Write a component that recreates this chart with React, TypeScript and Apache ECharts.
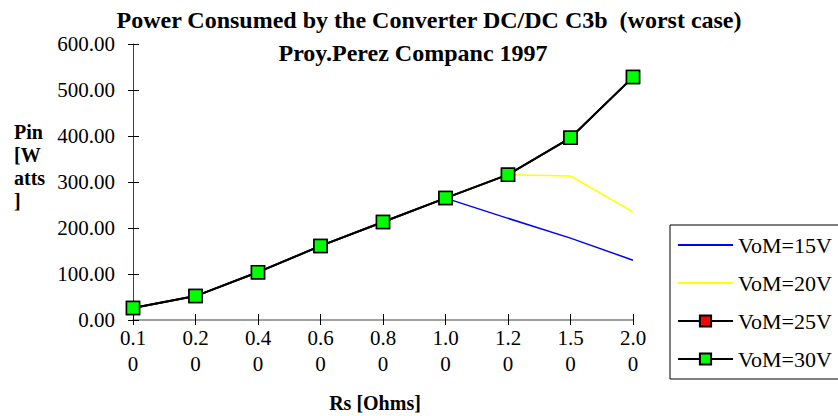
import React, { useEffect, useRef } from "react";
import * as echarts from "echarts";

const categories = ["0.10", "0.20", "0.40", "0.60", "0.80", "1.00", "1.20", "1.50", "2.00"];
const vom15 = [26, 52, 104, 161, 213, 265, 221, 178, 130];
const vom20 = [26, 52, 104, 161, 213, 265, 316, 313, 235];
const vom25 = [26, 52, 104, 161, 213, 265, 316, 396, 528];
const vom30 = [26, 52, 104, 161, 213, 265, 316, 396, 528];
const seriesNames = ["VoM=15V", "VoM=20V", "VoM=25V", "VoM=30V"];

const FONT = "Liberation Serif";
const FONT_CSS = `"Liberation Serif", "Times New Roman", serif`;

export default function App() {
  const ref = useRef<HTMLDivElement>(null);
  useEffect(() => {
    if (!ref.current) return;
    const chart = echarts.init(ref.current, null, { renderer: "svg" });
    const grid = { left: 133, top: 44, width: 500, height: 276 };
    const xLabel = {
      show: true,
      fontFamily: FONT,
      fontSize: 21,
      color: "#000",
      lineHeight: 26,
      margin: 5,
      formatter: (v: string) => v.slice(0, 3) + "\n" + v.slice(3),
    };
    chart.setOption({
      animation: false,
      backgroundColor: "#fff",
      textStyle: { fontFamily: FONT, fontSize: 20 },
      grid,
      graphic: [
        {
          type: "text",
          x: 429,
          y: 20,
          style: {
            text: "Power Consumed by the Converter DC/DC C3b  (worst case)",
            font: `bold 24px ${FONT_CSS}`,
            fill: "#000",
            align: "center",
            verticalAlign: "middle",
          },
        },
        {
          type: "text",
          x: 413,
          y: 53,
          style: {
            text: "Proy.Perez Companc 1997",
            font: `bold 24px ${FONT_CSS}`,
            fill: "#000",
            align: "center",
            verticalAlign: "middle",
          },
        },
        {
          type: "text",
          x: 14,
          y: 120,
          style: {
            text: "Pin\n[W\natts\n]",
            font: `bold 20px ${FONT_CSS}`,
            lineHeight: 23,
            fill: "#000",
            align: "left",
            verticalAlign: "top",
          },
        },
        {
          type: "text",
          x: 375,
          y: 403,
          style: {
            text: "Rs [Ohms]",
            font: `bold 20px ${FONT_CSS}`,
            fill: "#000",
            align: "center",
            verticalAlign: "middle",
          },
        },
      ],
      legend: {
        orient: "vertical",
        left: 670,
        top: 225,
        padding: [9, 30, 9, 7],
        itemWidth: 55,
        itemHeight: 14,
        itemGap: 16,
        itemTextGap: 8,
        borderColor: "#000",
        borderWidth: 1,
        backgroundColor: "#fff",
        textStyle: { fontFamily: FONT, fontSize: 22, color: "#000", lineHeight: 22 },
        data: [
          { name: seriesNames[0], itemStyle: { opacity: 0 } },
          { name: seriesNames[1], itemStyle: { opacity: 0 } },
          { name: seriesNames[2] },
          { name: seriesNames[3] },
        ],
      },
      xAxis: [
        {
          type: "category",
          data: categories,
          boundaryGap: false,
          position: "bottom",
          axisLine: { lineStyle: { color: "#808080", width: 1.5 } },
          axisTick: { length: 5, lineStyle: { color: "#000" } },
          axisLabel: xLabel,
          splitLine: { show: false },
        },
        {
          type: "category",
          data: categories,
          boundaryGap: false,
          position: "bottom",
          axisLine: { show: false },
          axisTick: { inside: true, length: 6, lineStyle: { color: "#000" } },
          axisLabel: { show: false },
          splitLine: { show: false },
        },
      ],
      yAxis: [
        {
          type: "value",
          min: 0,
          max: 600,
          interval: 100,
          axisLine: { show: true, lineStyle: { color: "#404040", width: 1 } },
          axisTick: { show: true, length: 5, lineStyle: { color: "#000" } },
          axisLabel: {
            show: true,
            fontFamily: FONT,
            fontSize: 21,
            color: "#000",
            margin: 18,
            formatter: (v: number) => v.toFixed(2),
          },
          splitLine: { show: false },
        },
        {
          type: "value",
          min: 0,
          max: 600,
          interval: 100,
          position: "left",
          axisLine: { show: false },
          axisTick: { show: true, inside: true, length: 6, lineStyle: { color: "#000" } },
          axisLabel: { show: false },
          splitLine: { show: false },
        },
      ],
      series: [
        {
          name: seriesNames[0],
          type: "line",
          data: vom15,
          symbol: "none",
          lineStyle: { color: "#0000ff", width: 1.5 },
          itemStyle: { color: "#0000ff" },
        },
        {
          name: seriesNames[1],
          type: "line",
          data: vom20,
          symbol: "none",
          lineStyle: { color: "#ffff00", width: 1.5 },
          itemStyle: { color: "#ffff00" },
        },
        {
          name: seriesNames[2],
          type: "line",
          data: vom25,
          symbol: "rect",
          symbolSize: 13,
          lineStyle: { color: "#000", width: 2 },
          itemStyle: { color: "#ff0000", borderColor: "#000", borderWidth: 1.5 },
        },
        {
          name: seriesNames[3],
          type: "line",
          data: vom30,
          symbol: "rect",
          symbolSize: 13,
          lineStyle: { color: "#000", width: 2 },
          itemStyle: { color: "#00ff00", borderColor: "#000", borderWidth: 1.5 },
        },
      ],
    });
    return () => chart.dispose();
  }, []);
  return (
    <div
      ref={ref}
      style={{ position: "absolute", left: 0, top: 0, width: 838, height: 416 }}
    />
  );
}
